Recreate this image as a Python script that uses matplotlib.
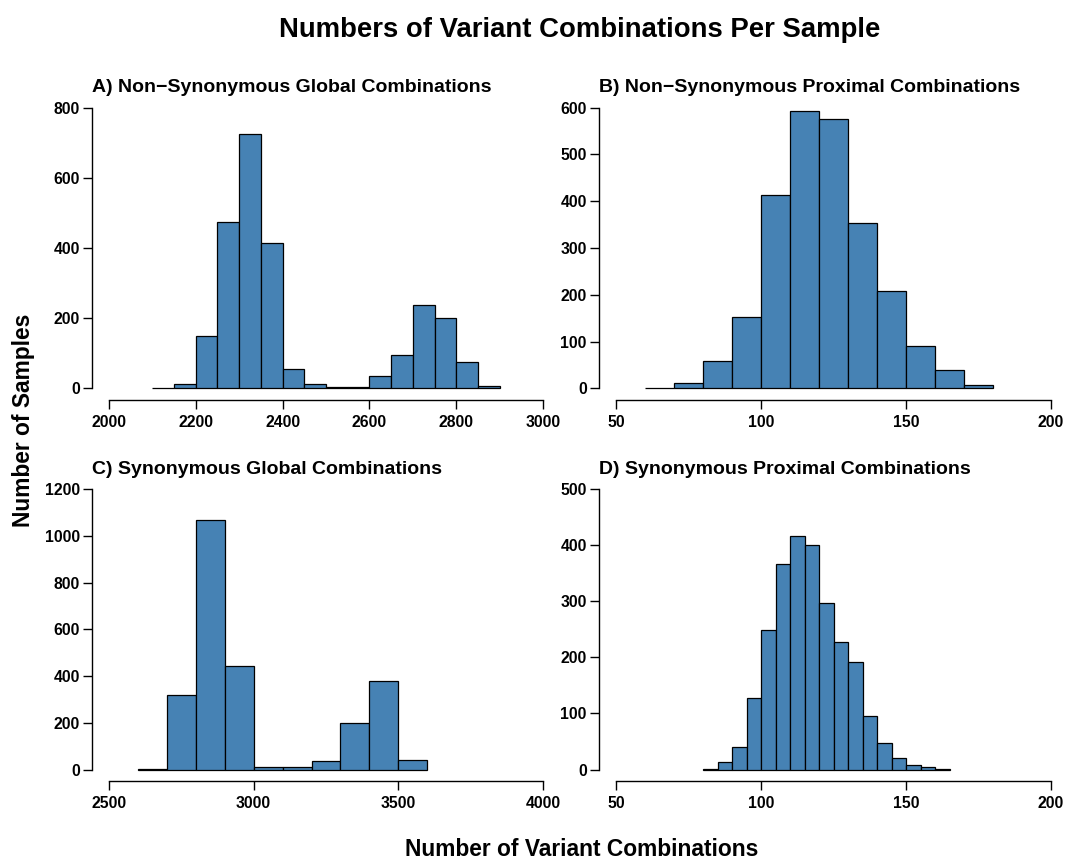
import numpy as np
import matplotlib
matplotlib.use("Agg")
import matplotlib.pyplot as plt

plt.rcParams['font.family'] = ['Liberation Sans', 'DejaVu Sans']
plt.rcParams['font.weight'] = 'bold'

# ---- histogram data (bin start, bin width, counts per bin) ----
a_start, a_width = 2100, 50
a_counts = [1, 13, 148, 475, 724, 415, 54, 11, 5, 5, 35, 94, 238, 201, 75, 7]

b_start, b_width = 60, 10
b_counts = [1, 12, 58, 153, 414, 593, 575, 354, 209, 91, 39, 6]

c_start, c_width = 2600, 100
c_counts = [3, 321, 1067, 441, 13, 11, 36, 200, 378, 39]

d_start, d_width = 80, 5
d_counts = [1, 14, 41, 127, 249, 366, 416, 400, 297, 227, 191, 95, 48, 20, 8, 4, 1]

a_xticks = [2000, 2200, 2400, 2600, 2800, 3000]
a_yticks = [0, 200, 400, 600, 800]
b_xticks = [50, 100, 150, 200]
b_yticks = [0, 100, 200, 300, 400, 500, 600]
c_xticks = [2500, 3000, 3500, 4000]
c_yticks = [0, 200, 400, 600, 800, 1000, 1200]
d_xticks = [50, 100, 150, 200]
d_yticks = [0, 100, 200, 300, 400, 500]

titles = ["A) Non\u2212Synonymous Global Combinations",
          "B) Non\u2212Synonymous Proximal Combinations",
          "C) Synonymous Global Combinations",
          "D) Synonymous Proximal Combinations"]

W, H = 1075, 860
fig = plt.figure(figsize=(W / 100, H / 100), dpi=100)


def px_axes(x0, x1, y_top, y_bot):
    return fig.add_axes([x0 / W, 1 - y_bot / H, (x1 - x0) / W, (y_bot - y_top) / H])


def panel(ax, start, width, counts, xticks, yticks, title):
    counts = np.asarray(counts, dtype=float)
    lefts = start + width * np.arange(len(counts))
    ax.bar(lefts, counts, width=width, align='edge', color='#4682B4',
           edgecolor='black', linewidth=0.9)
    # R-style plot region: 4% padding beyond the axis ranges
    xr = xticks[-1] - xticks[0]
    yr = yticks[-1] - yticks[0]
    ax.set_xlim(xticks[0] - 0.04 * xr, xticks[-1] + 0.04 * xr)
    ax.set_ylim(yticks[0] - 0.04 * yr, yticks[-1] + 0.04 * yr)
    ax.set_xticks(xticks)
    ax.set_yticks(yticks)
    ax.set_xticklabels([str(t) for t in xticks])
    ax.set_yticklabels([str(t) for t in yticks])
    for s in ('top', 'right'):
        ax.spines[s].set_visible(False)
    ax.spines['left'].set_bounds(yticks[0], yticks[-1])
    ax.spines['bottom'].set_bounds(xticks[0], xticks[-1])
    for s in ('left', 'bottom'):
        ax.spines[s].set_linewidth(1.0)
    ax.tick_params(axis='both', direction='out', length=6.5, width=1.0,
                   labelsize=11.3)
    ax.tick_params(axis='x', pad=4.5)
    ax.tick_params(axis='y', pad=2)
    for lab in ax.get_xticklabels() + ax.get_yticklabels():
        lab.set_fontweight('bold')
    ax.set_title(title, loc='left', fontsize=14, fontweight='bold', pad=2.5)


axA = px_axes(91.6, 560.4, 96.5, 399.5)
axB = px_axes(598.6, 1068.4, 96.5, 399.5)
axC = px_axes(91.6, 560.4, 477.8, 780.8)
axD = px_axes(598.6, 1068.4, 477.8, 780.8)

panel(axA, a_start, a_width, a_counts, a_xticks, a_yticks, titles[0])
panel(axB, b_start, b_width, b_counts, b_xticks, b_yticks, titles[1])
panel(axC, c_start, c_width, c_counts, c_xticks, c_yticks, titles[2])
panel(axD, d_start, d_width, d_counts, d_xticks, d_yticks, titles[3])

fig.text(580 / W, 1 - 37 / H, "Numbers of Variant Combinations Per Sample",
         ha='center', va='baseline', fontsize=19.8, fontweight='bold')
fig.text(582 / W, 1 - 856 / H, "Number of Variant Combinations",
         ha='center', va='baseline', fontsize=16.4, fontweight='bold')
fig.text(24 / W, 1 - 420 / H, "Number of Samples", rotation=90,
         ha='center', va='center', fontsize=16.4, fontweight='bold')

fig.savefig("out.png", dpi=100)
